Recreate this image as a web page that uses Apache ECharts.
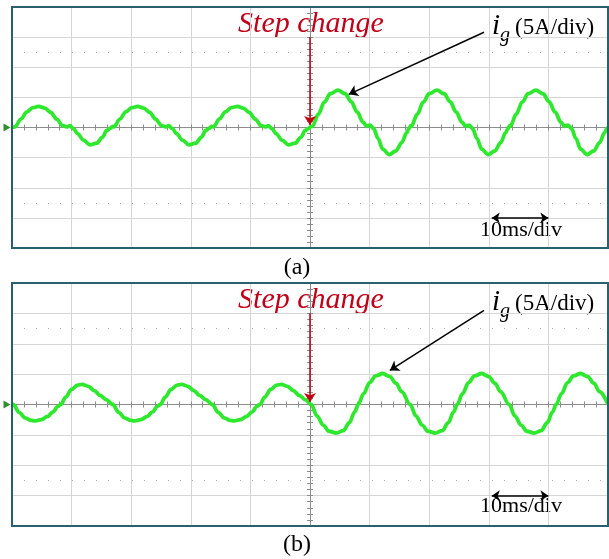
<!DOCTYPE html>
<html>
<head>
<meta charset="utf-8">
<script src="https://cdn.jsdelivr.net/npm/echarts@6/dist/echarts.min.js"></script>
<style>
    html, body { margin: 0; padding: 0; background: #fff; }
    #chart { width: 609px; height: 559px; }
</style>
</head>
<body>
<div id="chart"></div>
<script>
// time in ms (load step at 50 ms), grid current i_g in A (5 A/div, 10 ms/div)
var stepTime = 50;

// (a) grid current
var waveA = [
    [0, 0], [0.5, 0.1], [1.5, 1.4], [2.5, 2.6], [3.5, 3.3], [4.5, 3.5], [5.5, 3.2], [6.5, 2.5], [7.5, 1.4], [8.5, 0.3],
    [9.2, 0.1], [9.7, 0.3], [10.3, -0.2], [11.0, -1.0], [12.0, -2.1], [13.1, -2.9], [14.2, -2.6], [15.2, -1.6], [15.9, -0.5], [16.5, -0.1], [16.9, 0.2],
    [17.1, 0.1], [18.1, 1.4], [19.1, 2.6], [20.1, 3.3], [21.1, 3.5], [22.1, 3.2], [23.1, 2.5], [24.1, 1.4], [25.1, 0.3],
    [25.8, 0.1], [26.3, 0.3], [26.9, -0.2], [27.6, -1.0], [28.6, -2.1], [29.7, -2.9], [30.8, -2.6], [31.8, -1.6], [32.5, -0.5], [33.1, -0.1], [33.5, 0.2],
    [33.8, 0.1], [34.8, 1.4], [35.8, 2.6], [36.8, 3.3], [37.8, 3.5], [38.8, 3.2], [39.8, 2.5], [40.8, 1.4], [41.8, 0.3],
    [42.5, 0.1], [43.0, 0.3], [43.6, -0.2], [44.3, -1.0], [45.3, -2.1], [46.4, -2.9], [47.5, -2.6], [48.5, -1.6], [49.2, -0.5], [49.8, -0.1], [50.2, 0.2],
    [50.4, 0.2], [51.4, 2.2], [52.4, 4.2], [53.4, 5.6], [54.7, 6.2], [55.9, 5.6], [56.9, 4.3], [57.9, 2.6], [58.9, 0.9],
    [59.5, 0.2], [60.1, 0.4], [60.7, -0.2], [61.4, -1.8], [62.2, -3.6], [63.3, -4.5], [64.4, -3.9], [65.4, -2.5], [66.2, -0.9], [66.6, -0.2], [66.9, 0.3],
    [67.0, 0.2], [68.0, 2.2], [69.0, 4.2], [70.0, 5.6], [71.3, 6.2], [72.5, 5.6], [73.5, 4.3], [74.5, 2.6], [75.5, 0.9],
    [76.1, 0.2], [76.7, 0.4], [77.3, -0.2], [78.0, -1.8], [78.8, -3.6], [79.9, -4.5], [81.0, -3.9], [82.0, -2.5], [82.8, -0.9], [83.2, -0.2], [83.5, 0.3],
    [83.6, 0.2], [84.6, 2.2], [85.6, 4.2], [86.6, 5.6], [87.9, 6.2], [89.1, 5.6], [90.1, 4.3], [91.1, 2.6], [92.1, 0.9],
    [92.7, 0.2], [93.3, 0.4], [93.9, -0.2], [94.6, -1.8], [95.4, -3.6], [96.5, -4.5], [97.6, -3.9], [98.6, -2.5], [99.4, -0.9], [99.8, -0.2], [100, 0.1]
];

// (b) grid current
var waveB = [
    [0, 0.1], [0.2, 0], [1.2, -1.3], [2.2, -2.2], [3.2, -2.6], [3.9, -2.7], [4.9, -2.5], [5.9, -2.0], [6.9, -1.2], [7.7, -0.3],
    [8.2, 0], [9.0, 1.2], [10.0, 2.5], [11.0, 3.2], [11.8, 3.3], [12.8, 3.0], [13.8, 2.3], [14.8, 1.5], [15.8, 0.8],
    [16.9, 0], [17.9, -1.3], [18.9, -2.2], [19.9, -2.6], [20.6, -2.7], [21.6, -2.5], [22.6, -2.0], [23.6, -1.2], [24.4, -0.3],
    [24.9, 0], [25.7, 1.2], [26.7, 2.5], [27.7, 3.2], [28.5, 3.3], [29.5, 3.0], [30.5, 2.3], [31.5, 1.5], [32.5, 0.8],
    [33.6, 0], [34.6, -1.3], [35.6, -2.2], [36.6, -2.6], [37.3, -2.7], [38.3, -2.5], [39.3, -2.0], [40.3, -1.2], [41.1, -0.3],
    [41.6, 0], [42.4, 1.2], [43.4, 2.5], [44.4, 3.2], [45.2, 3.3], [46.2, 3.0], [47.2, 2.3], [48.2, 1.5], [49.2, 0.8],
    [50.2, 0], [51.2, -1.9], [52.2, -3.4], [53.2, -4.4], [54.4, -4.7], [55.6, -4.3], [56.6, -3.0], [57.5, -1.2],
    [58.1, 0], [59.0, 1.8], [60.0, 3.6], [61.0, 4.7], [62.2, 5.1], [63.4, 4.6], [64.4, 3.5], [65.4, 2.1],
    [66.8, 0], [67.8, -1.9], [68.8, -3.4], [69.8, -4.4], [71.0, -4.7], [72.2, -4.3], [73.2, -3.0], [74.1, -1.2],
    [74.7, 0], [75.6, 1.8], [76.6, 3.6], [77.6, 4.7], [78.8, 5.1], [80.0, 4.6], [81.0, 3.5], [82.0, 2.1],
    [83.4, 0], [84.4, -1.9], [85.4, -3.4], [86.4, -4.4], [87.6, -4.7], [88.8, -4.3], [89.8, -3.0], [90.7, -1.2],
    [91.3, 0], [92.2, 1.8], [93.2, 3.6], [94.2, 4.7], [95.4, 5.1], [96.6, 4.6], [97.6, 3.5], [98.6, 2.1], [100, 0]
];

// screen divisions
var timeRange = [-50, 50];
var timeDiv = 10;
var currentRange = [-20, 20];
var currentDiv = 5;
var dottedLevels = [12.5, -12.5];

var traceColor = "#2ee82e";
var gridColor = "#d6d6d6";
var centerColor = "#8c8c8c";
var serif = '"Liberation Serif", "Times New Roman", serif';

function shift(arr) {
    return arr.map(function (p) {
        return [p[0] - stepTime, p[1]];
    });
}

function xAxisOf(gridIndex, position, yIndex, withGrid) {
    return {
        type: "value", gridIndex: gridIndex, position: position,
        min: timeRange[0], max: timeRange[1], interval: timeDiv,
        axisLine: {show: true, onZero: true, onZeroAxisIndex: yIndex, lineStyle: {color: centerColor, width: 1}},
        axisTick: {show: true, length: 3, lineStyle: {color: centerColor}},
        minorTick: {show: true, splitNumber: 5, length: 3, lineStyle: {color: centerColor}},
        axisLabel: {show: false},
        splitLine: {show: withGrid, lineStyle: {color: gridColor, width: 1}}
    };
}

function yAxisOf(gridIndex, position, xIndex, withGrid) {
    return {
        type: "value", gridIndex: gridIndex, position: position,
        min: currentRange[0], max: currentRange[1], interval: currentDiv,
        axisLine: {show: true, onZero: true, onZeroAxisIndex: xIndex, lineStyle: {color: centerColor, width: 1}},
        axisTick: {show: true, length: 3, lineStyle: {color: centerColor}},
        minorTick: {show: true, splitNumber: 5, length: 3, lineStyle: {color: centerColor}},
        axisLabel: {show: false},
        splitLine: {show: withGrid, lineStyle: {color: gridColor, width: 1}}
    };
}

function traceSeries(idx, data) {
    return {
        type: "line", xAxisIndex: idx * 2, yAxisIndex: idx * 2,
        data: shift(data), showSymbol: false, smooth: 0.35, smoothMonotone: "x",
        clip: false, z: 3,
        lineStyle: {color: traceColor, width: 3.8},
        markPoint: {
            silent: true, animation: false,
            data: [{
                coord: [timeRange[0], 0], symbol: "triangle", symbolSize: [8, 7],
                symbolRotate: -90, symbolOffset: [-5, 0],
                itemStyle: {color: "#2f8f2f"}, label: {show: false}
            }]
        }
    };
}

function dottedSeries(idx) {
    return {
        type: "line", xAxisIndex: idx * 2, yAxisIndex: idx * 2, data: [], z: 1,
        markLine: {
            silent: true, animation: false, symbol: "none", label: {show: false},
            lineStyle: {color: "#a8a8a8", type: [1, 11], width: 1},
            data: dottedLevels.map(function (v) { return {yAxis: v}; })
        }
    };
}

function arrowSeries(idx, pointer) {
    return {
        type: "line", xAxisIndex: idx * 2, yAxisIndex: idx * 2, data: [], z: 4,
        markLine: {
            silent: true, animation: false, symbol: ["none", "arrow"], symbolSize: 9,
            label: {show: false},
            lineStyle: {type: "solid", width: 1.5},
            data: [
                [{coord: [0, 15], lineStyle: {color: "#c00010", width: 1.5, type: "solid"}}, {coord: [0, 0.4]}],
                [{coord: pointer[0], lineStyle: {color: "#000", width: 1.5, type: "solid"}}, {coord: pointer[1]}]
            ]
        }
    };
}

function scaleSeries(idx) {
    return {
        type: "line", xAxisIndex: idx * 2, yAxisIndex: idx * 2, data: [], z: 4,
        markLine: {
            silent: true, animation: false, symbol: ["arrow", "arrow"], symbolSize: 8,
            label: {show: false},
            lineStyle: {color: "#000", width: 1.5, type: "solid"},
            data: [[{coord: [30.5, -15]}, {coord: [40, -15]}]]
        }
    };
}

function texts(dy) {
    return [
        {type: "text", x: 311, y: 24 + dy, style: {text: "Step change", font: "italic 30px " + serif, fill: "#c00018", align: "center", verticalAlign: "middle"}},
        {type: "text", x: 492, y: 26 + dy, style: {text: "i", font: "italic 29px " + serif, fill: "#000", align: "left", verticalAlign: "middle"}},
        {type: "text", x: 500, y: 36 + dy, style: {text: "g", font: "italic 20px " + serif, fill: "#000", align: "left", verticalAlign: "middle"}},
        {type: "text", x: 515, y: 28 + dy, style: {text: "(5A/div)", font: "23px " + serif, fill: "#000", align: "left", verticalAlign: "middle"}},
        {type: "text", x: 521, y: 230 + dy, style: {text: "10ms/div", font: "22px " + serif, fill: "#000", align: "center", verticalAlign: "middle"}}
    ];
}

var chart = echarts.init(document.getElementById("chart"));
var option = {
    animation: false,
    backgroundColor: "#fff",
    grid: [
        {left: 12, top: 7, width: 596, height: 241, show: true, z: 6, backgroundColor: "transparent", borderColor: "#2c5f6d", borderWidth: 2},
        {left: 12, top: 283, width: 596, height: 243, show: true, z: 6, backgroundColor: "transparent", borderColor: "#2c5f6d", borderWidth: 2}
    ],
    xAxis: [
        xAxisOf(0, "bottom", 0, true), xAxisOf(0, "top", 0, false),
        xAxisOf(1, "bottom", 2, true), xAxisOf(1, "top", 2, false)
    ],
    yAxis: [
        yAxisOf(0, "left", 0, true), yAxisOf(0, "right", 0, false),
        yAxisOf(1, "left", 2, true), yAxisOf(1, "right", 2, false)
    ],
    series: [
        dottedSeries(0), traceSeries(0, waveA), arrowSeries(0, [[29.2, 15.8], [6.5, 5.5]]), scaleSeries(0),
        dottedSeries(1), traceSeries(1, waveB), arrowSeries(1, [[29.2, 15.5], [13.4, 5.6]]), scaleSeries(1)
    ],
    graphic: texts(0).concat(texts(276)).concat([
        {type: "text", x: 297, y: 268, style: {text: "(a)", font: "24px " + serif, fill: "#000", align: "center", verticalAlign: "middle"}},
        {type: "text", x: 297, y: 545, style: {text: "(b)", font: "24px " + serif, fill: "#000", align: "center", verticalAlign: "middle"}}
    ])
};
chart.setOption(option);
</script>
</body>
</html>
